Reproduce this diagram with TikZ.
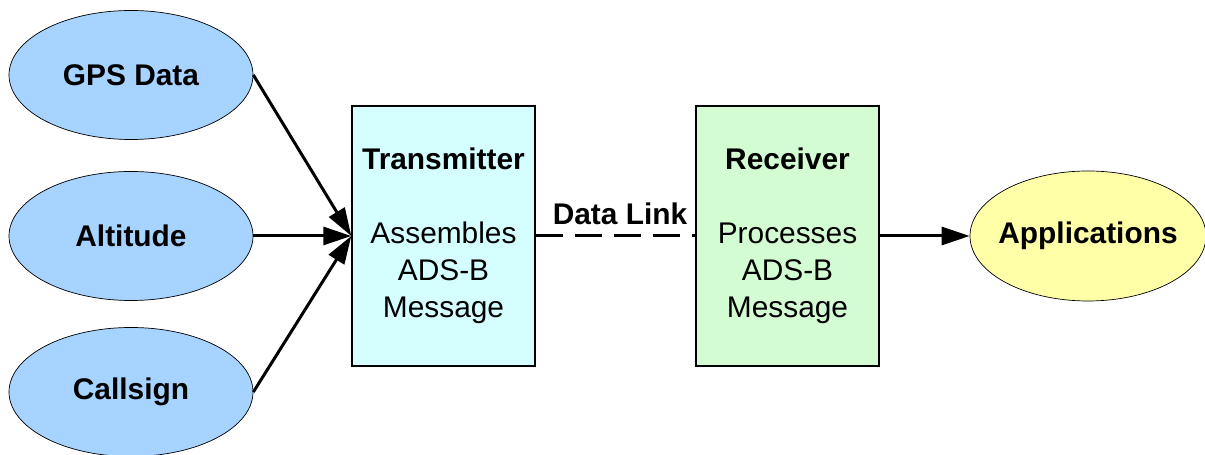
\documentclass[tikz,border=0pt]{standalone}
\usepackage{fontspec}
\setmainfont{Liberation Sans}
\usepackage{xcolor}
\usetikzlibrary{shapes.geometric,positioning,arrows.meta}

\definecolor{srcblue}{HTML}{A6D3FF}
\definecolor{txcyan}{HTML}{D4FEFF}
\definecolor{rxgreen}{HTML}{D4FCD2}
\definecolor{appyellow}{HTML}{FFFFA8}

\begin{document}
\begin{tikzpicture}[
    font=\fontsize{17}{21}\selectfont,
    src/.style={ellipse, draw, fill=srcblue, minimum width=4.88cm, minimum height=2.58cm,
        inner sep=0pt, font=\fontsize{17}{21}\selectfont\bfseries},
    unit/.style={rectangle, draw, line width=0.8pt, minimum width=3.66cm, minimum height=5.2cm, align=center},
    feed/.style={line width=1.7pt, -{Triangle[length=0.56cm,width=0.36cm]}}
]
    \useasboundingbox (0,0) rectangle (24.1,9.1);

    % inputs
    \node[src] (gps) at (2.62,7.6) {GPS Data};
    \node[src] (alt) at (2.62,4.38) {Altitude};
    \node[src] (call) at (2.62,1.26) {Callsign};

    % transmitter and receiver
    \node[unit, fill=txcyan] (tx) at (8.87,4.38) {\textbf{Transmitter}\\[21pt]Assembles\\ADS-B\\Message};
    \node[unit, fill=rxgreen] (rx) at (15.75,4.38) {\textbf{Receiver}\\[21pt]Processes\\ADS-B\\Message};

    % output
    \node[src, fill=appyellow, minimum width=4.72cm, minimum height=2.6cm, inner xsep=-0.25cm] (app) at (21.76,4.38) {Applications};

    \draw[feed] (gps.east) -- (tx.west);
    \draw[feed] (alt.east) -- (tx.west);
    \draw[feed] (call.east) -- (tx.west);
    \draw[line width=1.7pt, dash pattern=on 0.54cm off 0.24cm] (tx.east) -- node[above=2pt, xshift=0.09cm, font=\fontsize{17}{21}\selectfont\bfseries] (link) {Data Link} (rx.west);
    \draw[feed] (rx.east) -- (app.west);
\end{tikzpicture}
\end{document}
